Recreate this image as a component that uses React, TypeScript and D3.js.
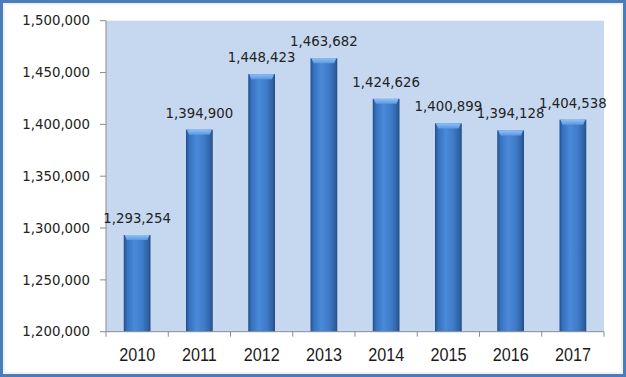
import React from "react";
import * as d3 from "d3";

const years = ["2010", "2011", "2012", "2013", "2014", "2015", "2016", "2017"];
const values = [1293254, 1394900, 1448423, 1463682, 1424626, 1400899, 1394128, 1404538];
const yTicks = [1200000, 1250000, 1300000, 1350000, 1400000, 1450000, 1500000];

const W = 626;
const H = 377;
const plot = { left: 106, right: 604, top: 20.7, bottom: 331.7 };

export default function App() {
  const x = d3.scaleBand<string>().domain(years).range([plot.left, plot.right]).paddingInner(0.57).paddingOuter(0.285);
  const xb = d3.scaleBand<string>().domain(years).range([plot.left, plot.right]);
  const y = d3.scaleLinear().domain([1200000, 1500000]).range([plot.bottom, plot.top]);
  const fmt = d3.format(",");
  const bw = x.bandwidth();

  return (
    <svg width={W} height={H} style={{ position: "absolute", left: 0, top: 0 }}>
      <defs>
        <linearGradient id="barG" x1="0" x2="1" y1="0" y2="0">
          <stop offset="0%" stopColor="#234f8a" />
          <stop offset="12%" stopColor="#3572c0" />
          <stop offset="40%" stopColor="#4a8ad9" />
          <stop offset="70%" stopColor="#3e7ac8" />
          <stop offset="92%" stopColor="#2d60a0" />
          <stop offset="100%" stopColor="#224c86" />
        </linearGradient>
        <linearGradient id="topG" x1="0" x2="0" y1="0" y2="1">
          <stop offset="0%" stopColor="#8ec0f4" />
          <stop offset="100%" stopColor="#5a98e2" />
        </linearGradient>
      </defs>
      <rect x={0} y={0} width={W} height={H} fill="#ffffff" />
      <rect x={1.5} y={1.5} width={W - 3} height={H - 3} fill="none" stroke="#4a7ebb" strokeWidth={3} />
      <rect x={4} y={4} width={W - 8} height={H - 8} fill="none" stroke="#dfe6ef" strokeWidth={1} />
      <rect x={plot.left} y={plot.top} width={plot.right - plot.left} height={plot.bottom - plot.top} fill="#c6d8f0" />
      {/* y axis */}
      <line x1={plot.left} x2={plot.left} y1={plot.top} y2={plot.bottom} stroke="#8c8c8c" strokeWidth={1} />
      {yTicks.map((t) => (
        <g key={t}>
          <line x1={plot.left - 6} x2={plot.left} y1={y(t)} y2={y(t)} stroke="#8c8c8c" />
          <text x={plot.left - 16} y={y(t)} dy="0.36em" textAnchor="end" fontFamily="DejaVu Sans" fontSize={13.3} fill="#222">
            {fmt(t)}
          </text>
        </g>
      ))}
      {/* bars */}
      {years.map((yr, i) => {
        const bx = x(yr) as number;
        const top = y(values[i]);
        return (
          <g key={yr}>
            <rect x={bx} y={top} width={bw} height={plot.bottom - top} fill="url(#barG)" />
            <polygon
              points={`${bx + 1},${top} ${bx + bw - 1},${top} ${bx + bw - 3},${top + 5} ${bx + 3},${top + 5}`}
              fill="url(#topG)"
            />
            <text x={bx + bw / 2} y={top - 12} textAnchor="middle" fontFamily="DejaVu Sans" fontSize={13.3} fill="#222">
              {fmt(values[i])}
            </text>
          </g>
        );
      })}
      {/* x axis */}
      <line x1={plot.left} x2={plot.right} y1={plot.bottom} y2={plot.bottom} stroke="#8c8c8c" />
      {years.concat(["end"]).map((yr, i) => {
        const tx = plot.left + i * xb.step();
        return <line key={"t" + i} x1={tx} x2={tx} y1={plot.bottom} y2={plot.bottom + 5} stroke="#8c8c8c" />;
      })}
      {years.map((yr) => {
        const cx = (xb(yr) as number) + xb.bandwidth() / 2;
        return (
          <text
            key={"l" + yr}
            x={0}
            y={0}
            transform={`translate(${cx},360.5) scale(1,1.15)`}
            textAnchor="middle"
            fontFamily="Liberation Sans, Arial"
            fontSize={16.2}
            fill="#1a1a1a"
          >
            {yr}
          </text>
        );
      })}
    </svg>
  );
}
